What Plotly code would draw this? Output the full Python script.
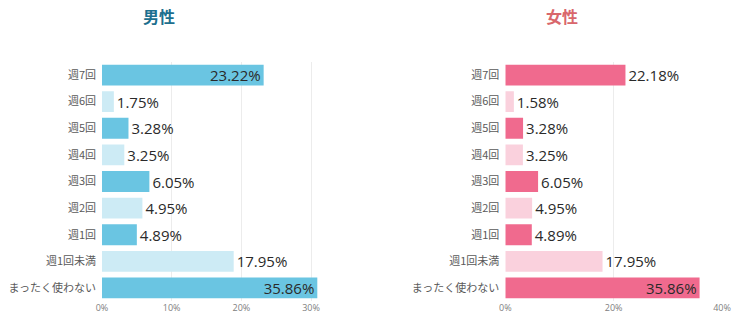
import plotly.graph_objects as go

categories = ["週7回", "週6回", "週5回", "週4回", "週3回", "週2回", "週1回", "週1回未満", "まったく使わない"]

# bar lengths as drawn (male chart axis ends at ~31%, last bar clipped there)
male_values = [23.2, 1.7, 3.8, 3.2, 6.8, 5.8, 5.0, 18.9, 30.9]
male_labels = ["23.22%", "1.75%", "3.28%", "3.25%", "6.05%", "4.95%", "4.89%", "17.95%", "35.86%"]

female_values = [22.18, 1.58, 3.28, 3.25, 6.05, 4.95, 4.89, 17.95, 35.86]
female_labels = ["22.18%", "1.58%", "3.28%", "3.25%", "6.05%", "4.95%", "4.89%", "17.95%", "35.86%"]

male_ticks = [0, 10, 20, 30]
male_tick_text = ["0%", "10%", "20%", "30%"]
female_ticks = [0, 20, 40]
female_tick_text = ["0%", "20%", "40%"]

male_colors = ["#6ac5e2", "#cdebf5"] * 4 + ["#6ac5e2"]
female_colors = ["#f06a8e", "#fad1dd"] * 4 + ["#f06a8e"]
male_pos = ["inside"] + ["outside"] * 7 + ["inside"]
female_pos = ["outside"] * 8 + ["inside"]

text_font = dict(family="Open Sans, Noto Sans, sans-serif", size=15, color="#2a2a2a")

fig = go.Figure()
fig.add_trace(go.Bar(
    x=male_values, y=categories, orientation="h", xaxis="x", yaxis="y",
    marker=dict(color=male_colors, line=dict(width=0)),
    text=male_labels, textposition=male_pos, insidetextanchor="end",
    textfont=text_font, cliponaxis=False, hoverinfo="skip", showlegend=False,
))
fig.add_trace(go.Bar(
    x=female_values, y=categories, orientation="h", xaxis="x2", yaxis="y2",
    marker=dict(color=female_colors, line=dict(width=0)),
    text=female_labels, textposition=female_pos, insidetextanchor="end",
    textfont=text_font, cliponaxis=False, hoverinfo="skip", showlegend=False,
))

W, H = 744, 322
ytop, ybot = 61.7, 301.3
ydom = [(H - ybot) / H, (H - ytop) / H]

xcommon = dict(showgrid=True, gridcolor="#ececec", gridwidth=1, zeroline=False, automargin=False,
               showline=False, ticks="", tickfont=dict(family="Open Sans, sans-serif", size=9, color="#808080"),
               fixedrange=True)
ycommon = dict(autorange="reversed", showgrid=False, zeroline=False, showline=False, ticks="",
               automargin=False, ticklabelstandoff=5,
               tickfont=dict(family="Noto Sans CJK JP", size=11, color="#5a5a5a"))

fig.update_layout(
    width=W, height=H,
    margin=dict(l=0, r=0, t=0, b=0, autoexpand=False),
    paper_bgcolor="white", plot_bgcolor="white",
    bargap=0.22,
    uniformtext=dict(minsize=15, mode="show"),
    xaxis=dict(domain=[102 / W, 318 / W], range=[0, 31], tickvals=male_ticks, ticktext=male_tick_text,
               anchor="y", **xcommon),
    yaxis=dict(domain=ydom, anchor="x", **ycommon),
    xaxis2=dict(domain=[505.3 / W, 722 / W], range=[0, 40], tickvals=female_ticks, ticktext=female_tick_text,
                anchor="y2", **xcommon),
    yaxis2=dict(domain=ydom, anchor="x2", **ycommon),
    annotations=[
        dict(text="<b>男性</b>", x=159 / W, y=1 - 16 / H, xref="paper", yref="paper",
             xanchor="center", yanchor="middle", showarrow=False,
             font=dict(family="Noto Sans CJK JP", size=16, color="#1d6f8e")),
        dict(text="<b>女性</b>", x=562 / W, y=1 - 16 / H, xref="paper", yref="paper",
             xanchor="center", yanchor="middle", showarrow=False,
             font=dict(family="Noto Sans CJK JP", size=16, color="#d9676c")),
    ],
)

fig.write_html("out.html")
